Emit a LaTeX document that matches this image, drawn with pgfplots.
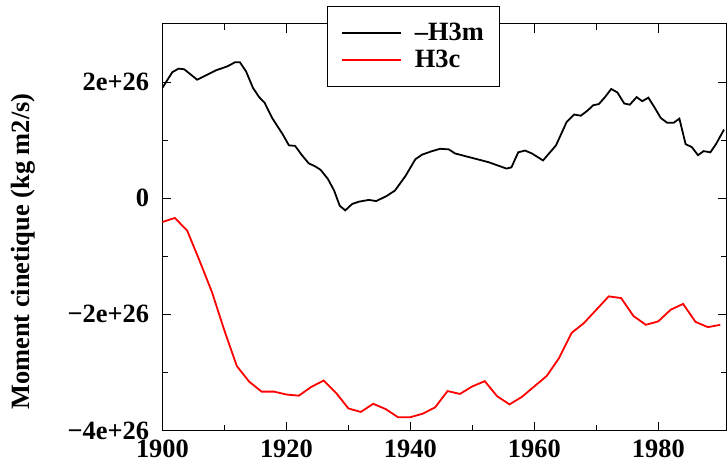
\documentclass[border=0pt]{standalone}
\usepackage{fontspec}
\setmainfont{Liberation Serif}
\usepackage{pgfplots}
\pgfplotsset{compat=1.18}
\newcommand\lbl{\fontsize{26.5pt}{31.8pt}\selectfont\bfseries}

% -H3m (mantle angular momentum, sign reversed), units of 1e26 kg m2/s
\pgfplotstableread{
year val
1900.0 1.90
1901.6 2.17
1902.6 2.23
1903.5 2.22
1905.6 2.04
1907.3 2.13
1908.6 2.20
1910.5 2.27
1911.7 2.34
1912.5 2.34
1913.5 2.18
1914.6 1.90
1915.6 1.74
1916.5 1.64
1917.7 1.38
1919.4 1.10
1920.4 0.91
1921.4 0.90
1922.5 0.74
1923.6 0.60
1924.6 0.55
1925.5 0.49
1926.7 0.33
1927.7 0.13
1928.6 -0.13
1929.5 -0.21
1930.6 -0.10
1931.7 -0.06
1933.3 -0.03
1934.5 -0.05
1936.2 0.04
1937.5 0.13
1939.2 0.38
1940.8 0.67
1941.9 0.75
1943.5 0.81
1944.8 0.85
1946.2 0.84
1947.2 0.77
1952.6 0.62
1955.5 0.51
1956.3 0.53
1957.4 0.79
1958.5 0.82
1959.6 0.77
1961.4 0.65
1963.5 0.91
1965.2 1.31
1966.4 1.44
1967.5 1.42
1968.6 1.51
1969.5 1.60
1970.4 1.62
1971.4 1.74
1972.4 1.88
1973.4 1.82
1974.5 1.63
1975.4 1.61
1976.5 1.74
1977.4 1.67
1978.4 1.73
1979.4 1.56
1980.4 1.38
1981.4 1.30
1982.5 1.30
1983.4 1.37
1984.4 0.93
1985.4 0.88
1986.4 0.74
1987.3 0.81
1988.4 0.79
1989.3 0.93
1990.6 1.18
}\hmantle

% H3c (core angular momentum), units of 1e26 kg m2/s
\pgfplotstableread{
year val
1900 -0.41
1902 -0.34
1904 -0.56
1906 -1.08
1908 -1.62
1910 -2.28
1912 -2.89
1914 -3.16
1916 -3.33
1918 -3.33
1920 -3.38
1922 -3.40
1924 -3.25
1926 -3.14
1928 -3.35
1930 -3.62
1932 -3.68
1934 -3.54
1936 -3.63
1938 -3.77
1940 -3.77
1942 -3.71
1944 -3.60
1946 -3.32
1948 -3.37
1950 -3.24
1952 -3.15
1954 -3.41
1956 -3.55
1958 -3.42
1960 -3.24
1962 -3.06
1964 -2.75
1966 -2.32
1968 -2.15
1970 -1.92
1972 -1.69
1974 -1.72
1976 -2.03
1978 -2.18
1980 -2.12
1982 -1.92
1984 -1.82
1986 -2.13
1988 -2.22
1990 -2.18
}\hcore

\begin{document}
\begin{tikzpicture}
\begin{axis}[
  at={(0pt,0pt)}, anchor=south west,
  scale only axis,
  width=566pt, height=408pt,
  xmin=1900, xmax=1991,
  ymin=-4, ymax=3,
  axis line style={line width=1pt},
  every tick/.style={black, line width=0.8pt},
  major tick length=9pt, minor tick length=6pt,
  xtick={1900,1920,1940,1960,1980},
  xticklabels={1900,1920,1940,1960,1980},
  minor x tick num=1,
  ytick={-4,-2,0,2},
  yticklabels={−4e+26,−2e+26,0,2e+26},
  minor y tick num=1,
  tick label style={font=\lbl},
  xticklabel style={yshift=-6pt},
  yticklabel style={xshift=-10pt},
  ylabel={Moment cinetique (kg m2/s)},
  ylabel style={font=\lbl, at={(axis description cs:-0.2465,0.44)}, anchor=center, rotate=0},
  legend style={font=\lbl, at={(axis description cs:0.2915,1.044)}, anchor=north west,
    draw=black, line width=1pt, fill=white, inner xsep=14pt, inner ysep=15pt,
    row sep=4pt,
    /tikz/every odd column/.append style={column sep=11pt}},
  legend cell align=left,
  legend image code/.code={\draw[#1] (0pt,0pt) -- (59pt,0pt);},
]
\addplot[black, line width=1.8pt] table[x=year, y=val] {\hmantle};
\addlegendentry{–H3m}
\addplot[red, line width=1.8pt] table[x=year, y=val] {\hcore};
\addlegendentry{H3c}
\end{axis}
\path[use as bounding box] (-163pt,-37pt) rectangle (564pt,432pt);
\end{tikzpicture}
\end{document}
